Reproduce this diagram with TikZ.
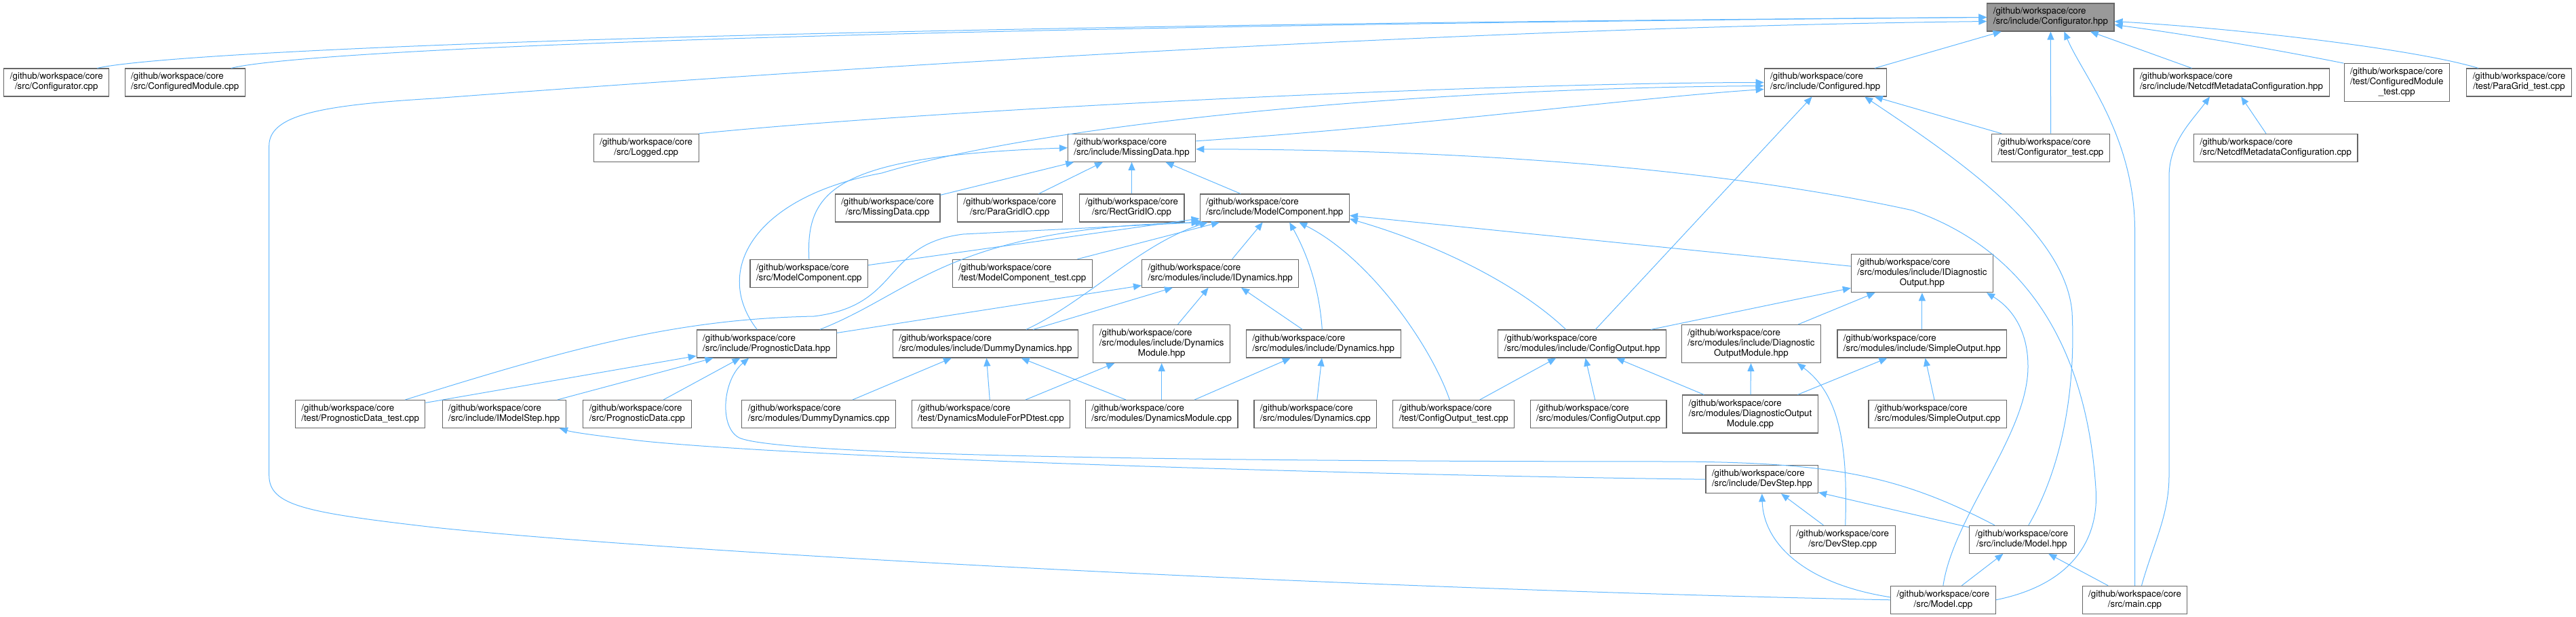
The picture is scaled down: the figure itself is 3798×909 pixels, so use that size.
\documentclass[tikz,border=0pt]{standalone}
\usepackage{fontspec}
\setmainfont{TeX Gyre Heros}
\usepackage{tikz}
\usetikzlibrary{positioning, arrows.meta}
\definecolor{edgeblue}{HTML}{63B8FF}
\definecolor{boxgrey}{HTML}{666666}
\definecolor{rootgrey}{HTML}{999999}
\newcommand{\ftwo}[1]{\begin{tabular}{@{}l@{}}/github/workspace/core\\\multicolumn{1}{@{}c@{}}{#1}\end{tabular}}
\newcommand{\fthree}[2]{\begin{tabular}{@{}l@{}}/github/workspace/core\\#1\\\multicolumn{1}{@{}c@{}}{#2}\end{tabular}}

\begin{document}
\begin{tikzpicture}[
    x=1pt, y=-1pt,
    file/.style={
        rectangle,
        draw=boxgrey,
        line width=1.1pt,
        fill=white,
        inner xsep=9pt,
        inner ysep=5.5pt,
        font=\fontsize{13.33}{15}\selectfont,
    },
    root/.style={file, fill=rootgrey},
    dep/.style={-{Triangle[length=12pt, width=10pt]}, line width=1pt, color=edgeblue}
]
\useasboundingbox (0,0) rectangle (3798,909);

\node[root] (CfgH) at (3023.4,25.5) {\ftwo{/src/include/Configurator.hpp}};
\node[file] (CfgCpp) at (83.3,121.5) {\ftwo{/src/Configurator.cpp}};
\node[file] (CfgModCpp) at (272.7,121.5) {\ftwo{/src/ConfiguredModule.cpp}};
\node[file] (CfgdH) at (2691.2,121.5) {\ftwo{/src/include/Configured.hpp}};
\node[file] (NetcdfH) at (3290,121.5) {\ftwo{/src/include/NetcdfMetadataConfiguration.hpp}};
\node[file] (CfgModTest) at (3533.8,121.7) {\fthree{/test/ConfiguredModule}{\_test.cpp}};
\node[file] (ParaGridTest) at (3714.1,121.5) {\ftwo{/test/ParaGrid\_test.cpp}};
\node[file] (Logged) at (952.7,217.8) {\ftwo{/src/Logged.cpp}};
\node[file] (MDH) at (1668.6,217.8) {\ftwo{/src/include/MissingData.hpp}};
\node[file] (CfgTest) at (3023.5,217.8) {\ftwo{/test/Configurator\_test.cpp}};
\node[file] (NetcdfCpp) at (3355.3,217.8) {\ftwo{/src/NetcdfMetadataConfiguration.cpp}};
\node[file] (MDCpp) at (1308.6,306.5) {\ftwo{/src/MissingData.cpp}};
\node[file] (PGIO) at (1488.8,306.5) {\ftwo{/src/ParaGridIO.cpp}};
\node[file] (RGIO) at (1668.6,306.5) {\ftwo{/src/RectGridIO.cpp}};
\node[file] (MCH) at (1879.2,306.5) {\ftwo{/src/include/ModelComponent.hpp}};
\node[file] (MCCpp) at (1192.8,402.8) {\ftwo{/src/ModelComponent.cpp}};
\node[file] (MCTest) at (1507.3,402.8) {\ftwo{/test/ModelComponent\_test.cpp}};
\node[file] (IDH) at (1799.2,402.8) {\ftwo{/src/modules/include/IDynamics.hpp}};
\node[file] (IDOH) at (2833.9,402.7) {\fthree{/src/modules/include/IDiagnostic}{Output.hpp}};
\node[file] (PDH) at (1130.2,506.5) {\ftwo{/src/include/PrognosticData.hpp}};
\node[file] (DDH) at (1452.9,506.5) {\ftwo{/src/modules/include/DummyDynamics.hpp}};
\node[file] (DMH) at (1712.7,506.5) {\fthree{/src/modules/include/Dynamics}{Module.hpp}};
\node[file] (DH) at (1951.3,506.5) {\ftwo{/src/modules/include/Dynamics.hpp}};
\node[file] (COH) at (2332.7,506.5) {\ftwo{/src/modules/include/ConfigOutput.hpp}};
\node[file] (DOMH) at (2581.9,506.5) {\fthree{/src/modules/include/Diagnostic}{OutputModule.hpp}};
\node[file] (SOH) at (2833.9,506.5) {\ftwo{/src/modules/include/SimpleOutput.hpp}};
\node[file] (PDTest) at (531.2,610) {\ftwo{/test/PrognosticData\_test.cpp}};
\node[file] (IMS) at (743.3,610) {\ftwo{/src/include/IModelStep.hpp}};
\node[file] (PDCpp) at (939.4,610) {\ftwo{/src/PrognosticData.cpp}};
\node[file] (DDCpp) at (1207.2,610) {\ftwo{/src/modules/DummyDynamics.cpp}};
\node[file] (DMPD) at (1460.9,610) {\ftwo{/test/DynamicsModuleForPDtest.cpp}};
\node[file] (DMCpp) at (1712.7,610) {\ftwo{/src/modules/DynamicsModule.cpp}};
\node[file] (DCpp) at (1939.4,610) {\ftwo{/src/modules/Dynamics.cpp}};
\node[file] (COTest) at (2143.3,610) {\ftwo{/test/ConfigOutput\_test.cpp}};
\node[file] (COCpp) at (2356.5,610) {\ftwo{/src/modules/ConfigOutput.cpp}};
\node[file] (DOMCpp) at (2580.6,610) {\fthree{/src/modules/DiagnosticOutput}{Module.cpp}};
\node[file] (SOCpp) at (2856.6,610) {\ftwo{/src/modules/SimpleOutput.cpp}};
\node[file] (DSH) at (2597.8,706.2) {\ftwo{/src/include/DevStep.hpp}};
\node[file] (DSCpp) at (2716.7,794.8) {\ftwo{/src/DevStep.cpp}};
\node[file] (MH) at (2980.8,794.8) {\ftwo{/src/include/Model.hpp}};
\node[file] (ModelCpp) at (2864.9,883.8) {\ftwo{/src/Model.cpp}};
\node[file] (MainCpp) at (3147.5,883.8) {\ftwo{/src/main.cpp}};

\draw[dep] ([xshift=60pt]CfgCpp.north) .. controls (230,80) and (900,40) .. (CfgH.west);
\draw[dep] ([xshift=68pt]CfgModCpp.north) .. controls (420,80) and (1000,42) .. (CfgH.west);
\draw[dep] (ModelCpp.west) .. controls (2000,868) and (1000,815) .. (640,777) .. controls (450,755) and (396.7,745) .. (396.7,700) -- (396.7,215) .. controls (396.7,170) and (470,155) .. (640,145) .. controls (1300,95) and (2200,40) .. ([yshift=-6pt]CfgH.west);
\draw[dep] (CfgdH) -- (CfgH);
\draw[dep] (CfgTest) -- (CfgH);
\draw[dep] (MainCpp.north) -- (3147.5,340) .. controls (3147.5,200) and (3070,110) .. ([xshift=20pt]CfgH.south);
\draw[dep] (NetcdfH) -- (CfgH);
\draw[dep] (CfgModTest.north west) .. controls (3350,72) and (3220,50) .. ([yshift=-11pt]CfgH.east);
\draw[dep] ([xshift=-60pt]ParaGridTest.north) .. controls (3560,72) and (3300,42) .. ([yshift=-6pt]CfgH.east);

\draw[dep] (Logged.north east) .. controls (1400,160) and (2200,122) .. (CfgdH.west);
\draw[dep] ([xshift=-14pt]PDH.north) .. controls (1050,400) and (1110,290) .. (1300,255) .. controls (1550,180) and (2100,130) .. ([yshift=-5pt]CfgdH.west);
\draw[dep] ([yshift=10pt]MDH.east) .. controls (2100,185) and (2400,145) .. ([yshift=-10pt]CfgdH.west);
\draw[dep] (COH) -- (CfgdH);
\draw[dep] (CfgTest) -- (CfgdH);
\draw[dep] ([xshift=10pt]MH.north) .. controls (3045,680) and (3060,560) .. (3055,460) .. controls (3045,340) and (2880,230) .. ([xshift=58pt]CfgdH.south);

\draw[dep] (MDCpp) -- (MDH);
\draw[dep] (PGIO) -- (MDH);
\draw[dep] (RGIO) -- (MDH);
\draw[dep] (MCH) -- (MDH);
\draw[dep] (MCCpp.north) .. controls (1188,280) and (1230,230) .. (MDH.west);
\draw[dep] (ModelCpp.east) .. controls (3060,860) and (3095,790) .. (3090,720) .. controls (3080,560) and (3020,380) .. (2820,310) .. controls (2500,240) and (2100,220) .. ([yshift=-2pt]MDH.east);

\draw[dep] (MCCpp) -- (MCH);
\draw[dep] (MCTest) -- (MCH);
\draw[dep] ([xshift=-25pt]PDH.north east) .. controls (1350,430) and (1400,335) .. ([xshift=6pt]MCH.south west);
\draw[dep] ([xshift=-30pt]PDTest.north east) .. controls (850,510) and (1000,470) .. (1200,466) .. controls (1330,450) and (1300,360) .. (1420,345) -- (MCH.south west);
\draw[dep] (IDH) -- (MCH);
\draw[dep] ([xshift=60pt]DDH.north) .. controls (1600,445) and (1680,360) .. ([xshift=12pt]MCH.south west);
\draw[dep] ([xshift=-2pt]DH.north) .. controls (1945,420) and (1925,370) .. ([xshift=22pt]MCH.south);
\draw[dep] ([xshift=-24pt]COH.north) .. controls (2240,420) and (2120,360) .. ([yshift=-16pt]MCH.east);
\draw[dep] ([xshift=-6pt]COTest.north) .. controls (2110,510) and (2020,380) .. ([xshift=36pt]MCH.south);
\draw[dep] (IDOH) -- (MCH);

\draw[dep] (PDH) -- (IDH);
\draw[dep] (DDH) -- (IDH);
\draw[dep] (DMH) -- (IDH);
\draw[dep] (DH) -- (IDH);

\draw[dep] (PDTest) -- (PDH);
\draw[dep] (IMS) -- (PDH);
\draw[dep] (PDCpp) -- (PDH);
\draw[dep] ([xshift=-40pt]MH.north) .. controls (2800,700) and (2700,682) .. (2480,680) .. controls (1800,680) and (1150,672) .. (1090,645) .. controls (1060,630) and (1065,560) .. ([xshift=-26pt]PDH.south);

\draw[dep] (DDCpp) -- (DDH);
\draw[dep] (DMPD) -- (DDH);
\draw[dep] (DMCpp) -- (DDH);
\draw[dep] (DMPD) -- (DMH);
\draw[dep] (DMCpp) -- (DMH);
\draw[dep] (DMCpp) -- (DH);
\draw[dep] (DCpp) -- (DH);

\draw[dep] (COTest) -- (COH);
\draw[dep] (COCpp) -- (COH);
\draw[dep] (DOMCpp) -- (COH);

\draw[dep] (COH) -- (IDOH);
\draw[dep] (DOMH) -- (IDOH);
\draw[dep] (SOH) -- (IDOH);
\draw[dep] (ModelCpp.north) .. controls (2880,760) and (2990,640) .. (2990,540) .. controls (2990,480) and (2960,450) .. ([xshift=-10pt]IDOH.south east);

\draw[dep] (DOMCpp) -- (DOMH);
\draw[dep] ([xshift=4pt]DSCpp.north) .. controls (2725,650) and (2710,580) .. ([xshift=68pt]DOMH.south);
\draw[dep] (DOMCpp) -- (SOH);
\draw[dep] (SOCpp) -- (SOH);

\draw[dep] (DSCpp) -- (DSH);
\draw[dep] (MH) -- (DSH);
\draw[dep] ([yshift=4pt]ModelCpp.west) .. controls (2660,860) and (2600,800) .. (DSH.south);
\draw[dep] (ModelCpp) -- (MH);
\draw[dep] (MainCpp) -- (MH);
\draw[dep] (DSH.west) .. controls (2000,700) and (1200,675) .. (950,650) .. controls (880,642) and (845,637) .. ([xshift=-10pt]IMS.south east);

\draw[dep] (NetcdfCpp) -- (NetcdfH);
\draw[dep] ([xshift=10pt]MainCpp.north) .. controls (3175,800) and (3198,760) .. (3198,700) -- (3198,260) .. controls (3198,210) and (3230,180) .. ([xshift=-32pt]NetcdfH.south);
\end{tikzpicture}
\end{document}
